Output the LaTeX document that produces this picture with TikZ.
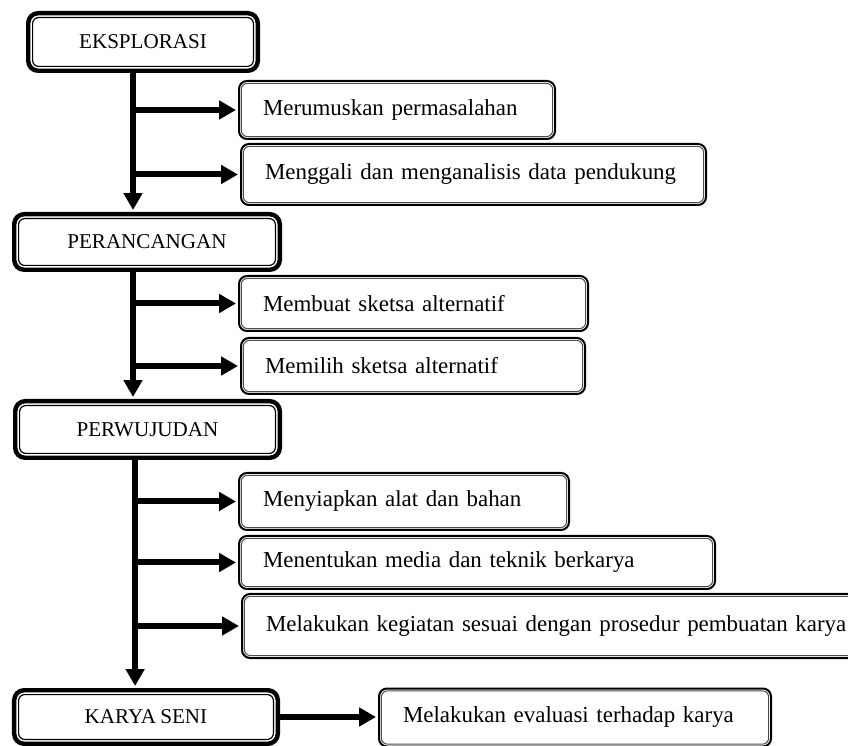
\documentclass[tikz,border=0pt]{standalone}
\usepackage{fontspec}
\setmainfont{Liberation Serif}[WordSpace=0.8]
\usetikzlibrary{arrows.meta}

\begin{document}
\begin{tikzpicture}[
    stage/.style={draw, line width=0.11cm, rounded corners=0.25cm,
      font=\fontsize{15pt}{17pt}\selectfont,
      path picture={\draw[line width=0.03cm, rounded corners=0.15cm]
        ([shift={(0.11cm,0.11cm)}]path picture bounding box.south west) rectangle
        ([shift={(-0.11cm,-0.11cm)}]path picture bounding box.north east);}},
    task/.style={draw, line width=0.05cm, rounded corners=0.2cm, anchor=west,
      align=left, inner xsep=0.6cm, font=\fontsize{16.3pt}{19pt}\selectfont,
      path picture={\draw[gray!60!black, line width=0.025cm, rounded corners=0.15cm]
        ([shift={(0.06cm,0.06cm)}]path picture bounding box.south west) rectangle
        ([shift={(-0.06cm,-0.06cm)}]path picture bounding box.north east);}},
    flow/.style={line width=0.15cm, shorten >=0.05cm,
      -{Triangle[length=0.42cm,width=0.45cm]}}]

  \clip (0,0) rectangle (21.2,18.625);

  \node[stage, minimum width=5.74cm, minimum height=1.44cm] (ekspl) at (3.575,17.575) {EKSPLORASI};
  \node[task, text width=6.7cm, minimum height=1.45cm] (rumus) at (5.95,15.875) {Merumuskan permasalahan};
  \node[task, text width=10.425cm, minimum height=1.525cm] (gali) at (6.0,14.2625) {Menggali dan menganalisis data pendukung};

  \node[stage, minimum width=6.64cm, minimum height=1.39cm] (peran) at (3.675,12.575) {PERANCANGAN};
  \node[task, text width=7.525cm, minimum height=1.375cm] (buat) at (5.95,11.0375) {Membuat sketsa alternatif};
  \node[task, text width=7.4cm, minimum height=1.4cm] (pilih) at (6.0,9.475) {Memilih sketsa alternatif};

  \node[stage, minimum width=6.615cm, minimum height=1.415cm] (wujud) at (3.6875,7.8875) {PERWUJUDAN};
  \node[task, text width=7.05cm, minimum height=1.425cm] (siap) at (5.95,6.0875) {Menyiapkan alat dan bahan};
  \node[task, text width=10.7cm, minimum height=1.325cm] (media) at (5.95,4.5625) {Menentukan media dan teknik berkarya};
  \node[task, text width=15.5cm, minimum height=1.6cm] (giat) at (6.025,2.975) {Melakukan kegiatan sesuai dengan prosedur pembuatan karya};

  \node[stage, minimum width=6.59cm, minimum height=1.34cm] (karya) at (3.65,0.7) {KARYA SENI};
  \node[task, text width=8.6cm, minimum height=1.45cm] (eval) at (9.45,0.6875) {Melakukan evaluasi terhadap karya};

  \coordinate (s1) at ([xshift=-0.25cm]ekspl.south);
  \coordinate (s2) at ([xshift=-0.35cm]peran.south);
  \coordinate (s3) at ([xshift=-0.31cm]wujud.south);

  \draw[flow] (s1) -- (s1 |- peran.north);
  \draw[flow] (s1 |- rumus.west) -- (rumus.west);
  \draw[flow] (s1 |- gali.west) -- (gali.west);

  \draw[flow] (s2) -- (s2 |- wujud.north);
  \draw[flow] (s2 |- buat.west) -- (buat.west);
  \draw[flow] (s2 |- pilih.west) -- (pilih.west);

  \draw[flow] (s3) -- (s3 |- karya.north);
  \draw[flow] (s3 |- siap.west) -- (siap.west);
  \draw[flow] (s3 |- media.west) -- (media.west);
  \draw[flow] (s3 |- giat.west) -- (giat.west);

  \draw[flow] (karya.east) -- (karya.east -| eval.west);

\end{tikzpicture}
\end{document}
